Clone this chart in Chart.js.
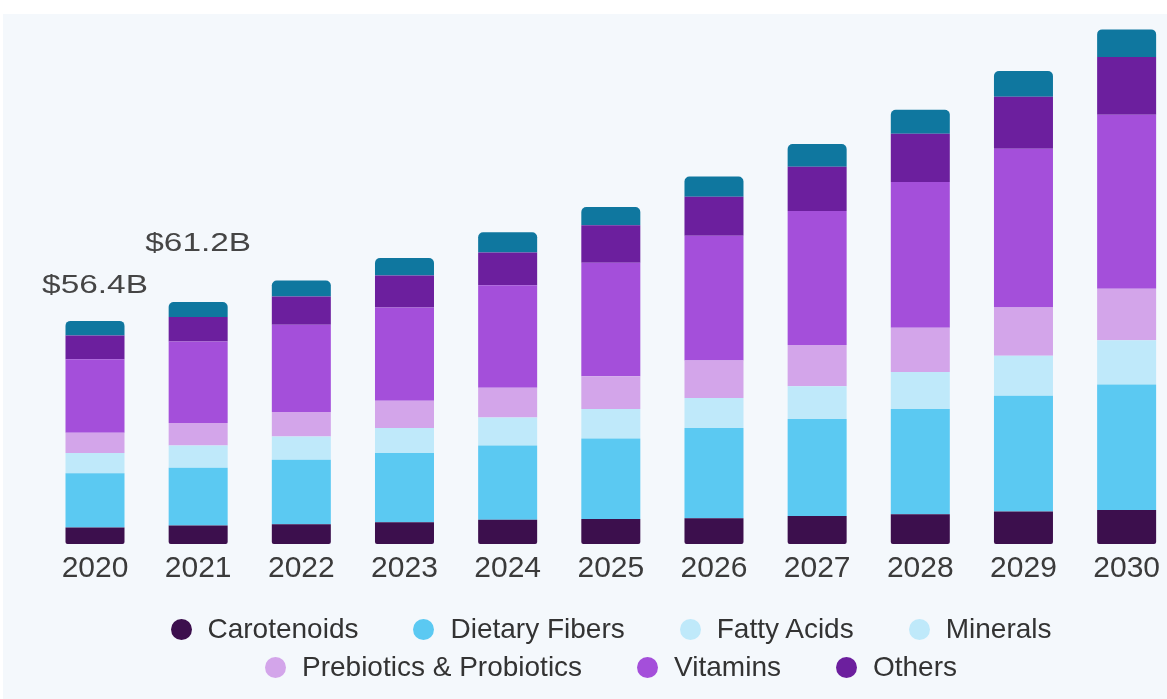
<!DOCTYPE html>
<html>
<head>
<meta charset="utf-8">
<script src="https://cdn.jsdelivr.net/npm/chart.js@4.4.0/dist/chart.umd.min.js"></script>
<style>
  html, body { margin: 0; padding: 0; background: #ffffff; width: 1167px; height: 699px; overflow: hidden; }
  #bg { position: absolute; left: 3px; top: 14px; right: 0; bottom: 0; background: #f4f8fc; }
  #c { position: absolute; left: 0; top: 0; }
  #legend { position: absolute; left: 161px; top: 610px; width: 900px; display: flex; flex-wrap: wrap;
            justify-content: center; column-gap: 55px; row-gap: 0; font-family: "Liberation Sans", Arial, sans-serif;
            font-size: 28px; color: #333333; line-height: 38px; }
  .item { display: inline-flex; align-items: center; white-space: nowrap; }
  .dot { width: 21px; height: 21px; border-radius: 50%; margin-right: 16px; display: inline-block; }
</style>
</head>
<body>
<div id="bg"></div>
<canvas id="c" width="1167" height="699"></canvas>
<div id="legend"></div>
<script>
// ---- data (USD billion) ----
const years = ["2020","2021","2022","2023","2024","2025","2026","2027","2028","2029","2030"];
const carotenoids    = [4.2, 4.7, 5.0, 5.5, 6.1, 6.3, 6.5, 7.1, 7.5, 8.2, 8.6];
const dietaryFibers  = [13.7, 14.6, 16.3, 17.5, 18.8, 20.4, 22.8, 24.5, 26.6, 29.3, 31.7];
const fattyAcids     = [5.1, 5.6, 5.9, 6.3, 7.1, 7.4, 7.6, 8.3, 9.4, 10.1, 11.2];
const prebiotics     = [5.1, 5.7, 6.2, 6.9, 7.5, 8.3, 9.5, 10.4, 11.2, 12.2, 13.0];
const vitamins       = [18.6, 20.6, 22.0, 23.6, 25.9, 28.7, 31.5, 33.9, 36.8, 40.1, 44.0];
const others         = [6.0, 6.2, 7.2, 8.1, 8.3, 9.5, 9.9, 11.2, 12.2, 13.2, 14.6];
const minerals       = [3.7, 3.8, 4.0, 4.4, 5.1, 4.6, 5.1, 5.7, 6.1, 6.5, 7.0];
const totalLabels    = ["$56.4B", "$61.2B"];

// ---- styling ----
const C = {
  car: "#3c0f4d", fib: "#5bc9f2", fat: "#bfe9fa", min: "#0f779f", minLegend: "#bfe9fa",
  pre: "#d3a5ea", vit: "#a44fda", oth: "#6c1f9e"
};

const common = { barPercentage: 0.572, categoryPercentage: 1.0, clip: false, borderWidth: 0 };
const datasets = [
  { label: "Carotenoids", data: carotenoids, backgroundColor: C.car, legendColor: C.car, legendOrder: 0,
    borderRadius: { bottomLeft: 2, bottomRight: 2, topLeft: 0, topRight: 0 }, borderSkipped: false },
  { label: "Dietary Fibers", data: dietaryFibers, backgroundColor: C.fib, legendColor: C.fib, legendOrder: 1 },
  { label: "Fatty Acids", data: fattyAcids, backgroundColor: C.fat, legendColor: C.fat, legendOrder: 2 },
  { label: "Prebiotics & Probiotics", data: prebiotics, backgroundColor: C.pre, legendColor: C.pre, legendOrder: 4 },
  { label: "Vitamins", data: vitamins, backgroundColor: C.vit, legendColor: C.vit, legendOrder: 5 },
  { label: "Others", data: others, backgroundColor: C.oth, legendColor: C.oth, legendOrder: 6 },
  { label: "Minerals", data: minerals, backgroundColor: C.min, legendColor: C.minLegend, legendOrder: 3,
    borderRadius: { topLeft: 5, topRight: 5, bottomLeft: 0, bottomRight: 0 }, borderSkipped: false }
].map(d => Object.assign({}, common, d));

const labelOffsets = [28, 51];
const totalsPlugin = {
  id: "totals",
  afterDatasetsDraw(chart) {
    const ctx = chart.ctx;
    const xs = chart.scales.x, ys = chart.scales.y;
    totalLabels.forEach((txt, i) => {
      let total = 0;
      chart.data.datasets.forEach(ds => { total += ds.data[i]; });
      const x = xs.getPixelForValue(i);
      const y = ys.getPixelForValue(total) - labelOffsets[i];
      ctx.save();
      ctx.font = "26.5px 'Liberation Sans', Arial, sans-serif";
      ctx.fillStyle = "#454545";
      ctx.textAlign = "center";
      ctx.textBaseline = "alphabetic";
      ctx.translate(x, y);
      ctx.scale(1.26, 1);
      ctx.fillText(txt, 0, 0);
      ctx.restore();
    });
  }
};

const chart = new Chart(document.getElementById("c"), {
  type: "bar",
  data: { labels: years, datasets },
  options: {
    responsive: false,
    devicePixelRatio: 1,
    animation: false,
    layout: { padding: { left: 95, right: 40, top: 10, bottom: 105 } },
    plugins: { legend: { display: false }, tooltip: { enabled: false } },
    scales: {
      x: {
        stacked: true, offset: false,
        grid: { display: false, drawTicks: false },
        border: { display: false },
        ticks: { color: "#3b3b3b", padding: 7, font: { family: "'Liberation Sans', Arial, sans-serif", size: 30 } }
      },
      y: { stacked: true, display: false, min: 0, max: 135 }
    }
  },
  plugins: [totalsPlugin]
});

// HTML legend built from the chart's datasets
const legendEl = document.getElementById("legend");
chart.data.datasets.slice().sort((a, b) => a.legendOrder - b.legendOrder).forEach(ds => {
  const item = document.createElement("span");
  item.className = "item";
  const dot = document.createElement("span");
  dot.className = "dot";
  dot.style.background = ds.legendColor;
  item.appendChild(dot);
  item.appendChild(document.createTextNode(ds.label));
  legendEl.appendChild(item);
});
</script>
</body>
</html>
